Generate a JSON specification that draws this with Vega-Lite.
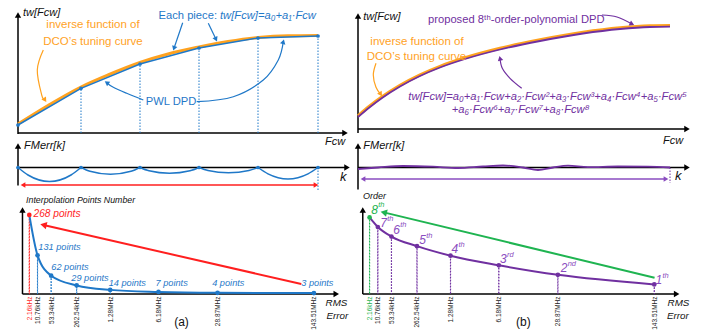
{
"$schema":"https://vega.github.io/schema/vega-lite/v6.json",
"padding":0,
"background":"white",
"spacing":0,
"bounds":"flush",
"align":"each",
"columns":2,
"config":{"view":{"stroke":null},"font":"Liberation Sans, Arial, sans-serif","text":{"font":"Liberation Sans, Arial, sans-serif"}},
"datasets":{
"pwl":[{"x":0,"y":8},{"x":63,"y":44.7},{"x":122,"y":69},{"x":181,"y":85},{"x":240,"y":95},{"x":300,"y":97}],
"rms":[{"rms":"2.16kHz","x":7,"pts":268,"order":8},{"rms":"10.76kHz","x":15.5,"pts":131,"order":7},{"rms":"53.34kHz","x":29.5,"pts":62,"order":6},{"rms":"262.54kHz","x":55.8,"pts":29,"order":5},{"rms":"1.28MHz","x":90.3,"pts":14,"order":4},{"rms":"6.18MHz","x":140,"pts":7,"order":3},{"rms":"28.87MHz","x":200.8,"pts":4,"order":2},{"rms":"143.51MHz","x":300,"pts":3,"order":1}]
},
"concat":[
{"width":350,"height":140,
"encoding":{"x":{"field":"x","type":"quantitative","scale":{"domain":[-18,332],"nice":false,"zero":false},"axis":null},"y":{"field":"y","type":"quantitative","scale":{"domain":[-7,133],"nice":false,"zero":false},"axis":null}},
"layer":[
{"data":{"values":[{"x":0,"y":-1,"x2":0,"y2":118},{"x":0,"y":0,"x2":327,"y2":0}]},"mark":{"type":"rule","color":"#000","strokeWidth":1.5},"encoding":{"x2":{"field":"x2"},"y2":{"field":"y2"}}},
{"data":{"values":[{"x":0,"y":118,"a":0},{"x":327,"y":0,"a":90}]},"mark":{"type":"point","shape":"triangle-up","filled":true,"opacity":1,"color":"#000","size":40},"encoding":{"angle":{"field":"a","type":"quantitative","scale":null}}},
{"data":{"values":[{"x":0,"y":9},{"x":30,"y":27.5},{"x":63,"y":46},{"x":90,"y":58},{"x":122,"y":70.5},{"x":150,"y":79},{"x":181,"y":86},{"x":210,"y":91.5},{"x":240,"y":95.5},{"x":270,"y":97.3},{"x":300,"y":97.6}]},"mark":{"type":"line","color":"#ffa21f","strokeWidth":3,"interpolate":"monotone"}},
{"data":{"values":[{"x":63,"y":0,"y2":44.7},{"x":122,"y":0,"y2":69},{"x":181,"y":0,"y2":85},{"x":240,"y":0,"y2":95},{"x":300,"y":0,"y2":97}]},"mark":{"type":"rule","color":"#1f78c8","strokeWidth":1,"strokeDash":[1.5,1.5]},"encoding":{"y2":{"field":"y2"}}},
{"data":{"name":"pwl"},"mark":{"type":"line","color":"#1f78c8","strokeWidth":1.5}},
{"data":{"name":"pwl"},"mark":{"type":"point","filled":true,"opacity":1,"color":"#1f78c8","size":14}},
{"data":{"values":[{"o":0,"x":25.3,"y":83},{"o":1,"x":19.3,"y":63},{"o":2,"x":23.7,"y":38},{"o":3,"x":27,"y":33}]},"mark":{"type":"line","color":"#ffa21f","strokeWidth":1.2,"interpolate":"cardinal"},"encoding":{"order":{"field":"o"}}},
{"data":{"values":[{"x":27,"y":33,"a":146.6}]},"mark":{"type":"point","shape":"triangle-up","filled":true,"opacity":1,"color":"#ffa21f","size":30},"encoding":{"angle":{"field":"a","type":"quantitative","scale":null}}},
{"data":{"values":[{"id":"e1","o":0,"x":164.7,"y":110.3},{"id":"e1","o":1,"x":156,"y":84.7},{"id":"e2","o":0,"x":190.3,"y":109.7},{"id":"e2","o":1,"x":198,"y":93.7},{"id":"p1","o":0,"x":125.3,"y":33},{"id":"p1","o":1,"x":108.7,"y":39.7},{"id":"p1","o":2,"x":95.3,"y":45.7},{"id":"p1","o":3,"x":88.7,"y":50.3},{"id":"p2","o":0,"x":178.7,"y":31.3},{"id":"p2","o":1,"x":215.3,"y":36.3},{"id":"p2","o":2,"x":245.3,"y":53},{"id":"p2","o":3,"x":260.3,"y":73},{"id":"p2","o":4,"x":265.3,"y":91.3}]},"mark":{"type":"line","color":"#1f78c8","strokeWidth":1.2,"interpolate":"cardinal"},"encoding":{"detail":{"field":"id"},"order":{"field":"o"}}},
{"data":{"values":[{"x":156,"y":84.7,"a":198.8},{"x":198,"y":93.7,"a":154.3},{"x":88.7,"y":50.3,"a":304.9},{"x":265.3,"y":91.3,"a":15.3}]},"mark":{"type":"point","shape":"triangle-up","filled":true,"opacity":1,"color":"#1f78c8","size":30},"encoding":{"angle":{"field":"a","type":"quantitative","scale":null}}},
{"data":{"values":[{"x":5,"y":120,"t":"tw[Fcw]"},{"x":307,"y":-8.7,"t":"Fcw"}]},"mark":{"type":"text","align":"left","baseline":"middle","fontStyle":"italic","fontSize":11,"color":"#111"},"encoding":{"text":{"field":"t"}}},
{"data":{"values":[{"x":75,"y":108,"t":"inverse function of"},{"x":75,"y":91,"t":"DCO’s tuning curve"}]},"mark":{"type":"text","align":"center","baseline":"middle","fontSize":11.5,"color":"#ffa21f"},"encoding":{"text":{"field":"t"}}},
{"data":{"values":[{"x":199,"y":117,"t":"Each piece:"}]},"mark":{"type":"text","align":"right","baseline":"middle","fontSize":11.2,"color":"#1f78c8"},"encoding":{"text":{"field":"t"}}},
{"data":{"values":[{"x":202,"y":117,"t":"tw[Fcw]=a₀+a₁·Fcw"}]},"mark":{"type":"text","align":"left","baseline":"middle","fontSize":11.2,"fontStyle":"italic","color":"#1f78c8"},"encoding":{"text":{"field":"t"}}},
{"data":{"values":[{"x":153,"y":31,"t":"PWL DPD"}]},"mark":{"type":"text","align":"center","baseline":"middle","fontSize":11.2,"color":"#1f78c8"},"encoding":{"text":{"field":"t"}}}
]},
{"width":353,"height":140,
"encoding":{"x":{"field":"x","type":"quantitative","scale":{"domain":[-8,345],"nice":false,"zero":false},"axis":null},"y":{"field":"y","type":"quantitative","scale":{"domain":[-11,129],"nice":false,"zero":false},"axis":null}},
"layer":[
{"data":{"values":[{"x":0,"y":-4,"x2":0,"y2":113},{"x":0,"y":0,"x2":329,"y2":0}]},"mark":{"type":"rule","color":"#000","strokeWidth":1.5},"encoding":{"x2":{"field":"x2"},"y2":{"field":"y2"}}},
{"data":{"values":[{"x":0,"y":113,"a":0},{"x":329,"y":0,"a":90}]},"mark":{"type":"point","shape":"triangle-up","filled":true,"opacity":1,"color":"#000","size":40},"encoding":{"angle":{"field":"a","type":"quantitative","scale":null}}},
{"data":{"values":[{"x":0,"y":13.2},{"x":12,"y":23.2},{"x":24,"y":32.2},{"x":42,"y":43.7},{"x":62,"y":54.2},{"x":82,"y":62.7},{"x":107,"y":71.2},{"x":142,"y":80.7},{"x":182,"y":89.2},{"x":225,"y":96.7},{"x":262,"y":101.2},{"x":292,"y":103.2},{"x":312,"y":103.5}]},"mark":{"type":"line","color":"#ffa21f","strokeWidth":3,"interpolate":"monotone"}},
{"data":{"values":[{"x":0,"y":12},{"x":12,"y":22},{"x":24,"y":31},{"x":42,"y":42.5},{"x":62,"y":53},{"x":82,"y":61.5},{"x":107,"y":70},{"x":142,"y":79.5},{"x":182,"y":88},{"x":225,"y":95.5},{"x":262,"y":100},{"x":292,"y":102},{"x":312,"y":102.3}]},"mark":{"type":"line","color":"#7030a0","strokeWidth":1.8,"interpolate":"monotone"}},
{"data":{"values":[{"o":0,"x":18,"y":65.7},{"o":1,"x":15.3,"y":54},{"o":2,"x":18,"y":41.7},{"o":3,"x":22.7,"y":34.7}]},"mark":{"type":"line","color":"#ffa21f","strokeWidth":1.2,"interpolate":"cardinal"},"encoding":{"order":{"field":"o"}}},
{"data":{"values":[{"x":22.7,"y":34.7,"a":146}]},"mark":{"type":"point","shape":"triangle-up","filled":true,"opacity":1,"color":"#ffa21f","size":30},"encoding":{"angle":{"field":"a","type":"quantitative","scale":null}}},
{"data":{"values":[{"id":"p","o":0,"x":244,"y":114},{"id":"p","o":1,"x":259,"y":112},{"id":"p","o":2,"x":274,"y":105},{"id":"f","o":0,"x":163.7,"y":40.7},{"id":"f","o":1,"x":152,"y":50.7},{"id":"f","o":2,"x":144.3,"y":60.7},{"id":"f","o":3,"x":142,"y":70.7}]},"mark":{"type":"line","color":"#7030a0","strokeWidth":1.2,"interpolate":"cardinal"},"encoding":{"detail":{"field":"id"},"order":{"field":"o"}}},
{"data":{"values":[{"x":274,"y":105,"a":115},{"x":142,"y":70.7,"a":347}]},"mark":{"type":"point","shape":"triangle-up","filled":true,"opacity":1,"color":"#7030a0","size":30},"encoding":{"angle":{"field":"a","type":"quantitative","scale":null}}},
{"data":{"values":[{"x":5.3,"y":112.3,"t":"tw[Fcw]"},{"x":305,"y":-11.7,"t":"Fcw"}]},"mark":{"type":"text","align":"left","baseline":"middle","fontStyle":"italic","fontSize":11,"color":"#111"},"encoding":{"text":{"field":"t"}}},
{"data":{"values":[{"x":70,"y":109,"t":"proposed 8ᵗʰ-order-polynomial DPD"}]},"mark":{"type":"text","align":"left","baseline":"middle","fontSize":11.2,"color":"#7030a0"},"encoding":{"text":{"field":"t"}}},
{"data":{"values":[{"x":59,"y":87.3,"t":"inverse function of"},{"x":58.5,"y":72.3,"t":"DCO’s tuning curve"}]},"mark":{"type":"text","align":"center","baseline":"middle","fontSize":11.5,"color":"#ffa21f"},"encoding":{"text":{"field":"t"}}},
{"data":{"values":[{"x":50.3,"y":31.7,"t":"tw[Fcw]=a₀+a₁·Fcw+a₂·Fcw²+a₃·Fcw³+a₄·Fcw⁴+a₅·Fcw⁵"},{"x":93.7,"y":19,"t":"+a₆·Fcw⁶+a₇·Fcw⁷+a₈·Fcw⁸"}]},"mark":{"type":"text","align":"left","baseline":"middle","fontSize":11.2,"fontStyle":"italic","color":"#7030a0"},"encoding":{"text":{"field":"t"}}}
]},
{"width":350,"height":55,
"encoding":{"x":{"field":"x","type":"quantitative","scale":{"domain":[-18,332],"nice":false,"zero":false},"axis":null},"y":{"field":"y","type":"quantitative","scale":{"domain":[-27.5,27.5],"nice":false,"zero":false},"axis":null}},
"layer":[
{"data":{"values":[{"x":0,"y":-18,"x2":0,"y2":21.5},{"x":0,"y":0,"x2":329,"y2":0}]},"mark":{"type":"rule","color":"#000","strokeWidth":1.5},"encoding":{"x2":{"field":"x2"},"y2":{"field":"y2"}}},
{"data":{"values":[{"x":0,"y":21.5,"a":0},{"x":329,"y":0,"a":90}]},"mark":{"type":"point","shape":"triangle-up","filled":true,"opacity":1,"color":"#000","size":40},"encoding":{"angle":{"field":"a","type":"quantitative","scale":null}}},
{"data":{"values":[{"id":1,"x":0,"y":0},{"id":1,"x":10,"y":-7.5},{"id":1,"x":31.5,"y":-14},{"id":1,"x":53,"y":-7.5},{"id":1,"x":63,"y":0},{"id":2,"x":63,"y":0},{"id":2,"x":72,"y":-3.8},{"id":2,"x":92.5,"y":-6.8},{"id":2,"x":113,"y":-3.8},{"id":2,"x":122,"y":0},{"id":3,"x":122,"y":0},{"id":3,"x":131,"y":-3.3},{"id":3,"x":151.5,"y":-5.8},{"id":3,"x":172,"y":-3.3},{"id":3,"x":181,"y":0},{"id":4,"x":181,"y":0},{"id":4,"x":190,"y":-3},{"id":4,"x":210.5,"y":-5.2},{"id":4,"x":231,"y":-3},{"id":4,"x":240,"y":0},{"id":5,"x":240,"y":0},{"id":5,"x":250,"y":-6.3},{"id":5,"x":270,"y":-11.5},{"id":5,"x":290,"y":-6.3},{"id":5,"x":300,"y":0}]},"mark":{"type":"line","color":"#1f78c8","strokeWidth":1.5,"interpolate":"monotone"},"encoding":{"detail":{"field":"id"}}},
{"data":{"values":[{"x":0,"y":0},{"x":63,"y":0},{"x":122,"y":0},{"x":181,"y":0},{"x":240,"y":0},{"x":300,"y":0}]},"mark":{"type":"point","filled":true,"opacity":1,"color":"#1f78c8","size":14}},
{"data":{"values":[{"x":300,"y":0,"y2":-22.5}]},"mark":{"type":"rule","color":"#1f78c8","strokeWidth":1,"strokeDash":[1.5,1.5]},"encoding":{"y2":{"field":"y2"}}},
{"data":{"values":[{"x":5,"y":-17.5,"x2":298,"y2":-17.5}]},"mark":{"type":"rule","color":"#ff1f1f","strokeWidth":1.3},"encoding":{"x2":{"field":"x2"},"y2":{"field":"y2"}}},
{"data":{"values":[{"x":5,"y":-17.5,"a":270},{"x":298,"y":-17.5,"a":90}]},"mark":{"type":"point","shape":"triangle-up","filled":true,"opacity":1,"color":"#ff1f1f","size":30},"encoding":{"angle":{"field":"a","type":"quantitative","scale":null}}},
{"data":{"values":[{"x":6,"y":21.5,"t":"FMerr[k]"}]},"mark":{"type":"text","align":"left","baseline":"middle","fontStyle":"italic","fontSize":11,"color":"#111"},"encoding":{"text":{"field":"t"}}},
{"data":{"values":[{"x":322,"y":-9.5,"t":"k"}]},"mark":{"type":"text","align":"left","baseline":"middle","fontStyle":"italic","fontSize":13,"color":"#111"},"encoding":{"text":{"field":"t"}}}
]},
{"width":353,"height":55,
"encoding":{"x":{"field":"x","type":"quantitative","scale":{"domain":[-8,345],"nice":false,"zero":false},"axis":null},"y":{"field":"y","type":"quantitative","scale":{"domain":[-27.5,27.5],"nice":false,"zero":false},"axis":null}},
"layer":[
{"data":{"values":[{"x":0,"y":-22,"x2":0,"y2":21.5},{"x":0,"y":0,"x2":329,"y2":0}]},"mark":{"type":"rule","color":"#000","strokeWidth":1.5},"encoding":{"x2":{"field":"x2"},"y2":{"field":"y2"}}},
{"data":{"values":[{"x":0,"y":21.5,"a":0},{"x":329,"y":0,"a":90}]},"mark":{"type":"point","shape":"triangle-up","filled":true,"opacity":1,"color":"#000","size":40},"encoding":{"angle":{"field":"a","type":"quantitative","scale":null}}},
{"data":{"values":[{"x":0,"y":-1.5},{"x":20,"y":0},{"x":45,"y":1.5},{"x":75,"y":0.8},{"x":100,"y":-0.5},{"x":125,"y":1},{"x":145,"y":2},{"x":165,"y":0},{"x":180,"y":-2.5},{"x":195,"y":0},{"x":210,"y":1.8},{"x":230,"y":0.3},{"x":260,"y":1},{"x":290,"y":0.8},{"x":312,"y":0}]},"mark":{"type":"line","color":"#7030a0","strokeWidth":1.8,"interpolate":"monotone"}},
{"data":{"values":[{"x":312,"y":0,"y2":-15.5}]},"mark":{"type":"rule","color":"#7030a0","strokeWidth":1,"strokeDash":[1.5,1.5]},"encoding":{"y2":{"field":"y2"}}},
{"data":{"values":[{"x":5,"y":-11.5,"x2":308,"y2":-11.5}]},"mark":{"type":"rule","color":"#8a4cc0","strokeWidth":1.3},"encoding":{"x2":{"field":"x2"},"y2":{"field":"y2"}}},
{"data":{"values":[{"x":5,"y":-11.5,"a":270},{"x":308,"y":-11.5,"a":90}]},"mark":{"type":"point","shape":"triangle-up","filled":true,"opacity":1,"color":"#8a4cc0","size":30},"encoding":{"angle":{"field":"a","type":"quantitative","scale":null}}},
{"data":{"values":[{"x":5.3,"y":21.8,"t":"FMerr[k]"}]},"mark":{"type":"text","align":"left","baseline":"middle","fontStyle":"italic","fontSize":11,"color":"#111"},"encoding":{"text":{"field":"t"}}},
{"data":{"values":[{"x":317,"y":-8.2,"t":"k"}]},"mark":{"type":"text","align":"left","baseline":"middle","fontStyle":"italic","fontSize":13,"color":"#111"},"encoding":{"text":{"field":"t"}}}
]},
{"width":350,"height":135,
"encoding":{"x":{"field":"x","type":"quantitative","scale":{"domain":[-18,332],"nice":false,"zero":false},"axis":{"values":[7,15.5,29.5,55.8,90.3,140,200.8,300],"labelExpr":"datum.value == 7 ? '2.16kHz' : datum.value == 15.5 ? '10.76kHz' : datum.value == 29.5 ? '53.34kHz' : datum.value == 55.8 ? '262.54kHz' : datum.value == 90.3 ? '1.28MHz' : datum.value == 140 ? '6.18MHz' : datum.value == 200.8 ? '28.87MHz' : '143.51MHz'","labelAngle":270,"labelAlign":"right","labelBaseline":"middle","labelFontSize":6.5,"labelPadding":2,"labelOverlap":false,"labelFlush":false,"labelBound":false,"labelColor":{"condition":{"test":"datum.value == 7","value":"#ff1f1f"},"value":"#222"},"domain":false,"ticks":false,"tickSize":0,"grid":false,"title":null,"offset":-36}},"y":{"field":"y","type":"quantitative","scale":{"domain":[-122,335.6],"nice":false,"zero":false},"axis":null}},
"layer":[
{"data":{"values":[{"x":0,"y":0,"x2":0,"y2":284.7},{"x":0,"y":0,"x2":323,"y2":0}]},"mark":{"type":"rule","color":"#000","strokeWidth":1.5},"encoding":{"x2":{"field":"x2"},"y2":{"field":"y2"}}},
{"data":{"values":[{"x":0,"y":284.7,"a":0},{"x":323,"y":0,"a":90}]},"mark":{"type":"point","shape":"triangle-up","filled":true,"opacity":1,"color":"#000","size":40},"encoding":{"angle":{"field":"a","type":"quantitative","scale":null}}},
{"data":{"values":[{"x":287,"y":33.9,"x2":21.6,"y2":233.9}]},"mark":{"type":"rule","color":"#ff1f1f","strokeWidth":2},"encoding":{"x2":{"field":"x2"},"y2":{"field":"y2"}}},
{"data":{"values":[{"x":21.6,"y":233.9,"a":282.7}]},"mark":{"type":"point","shape":"triangle-up","filled":true,"opacity":1,"color":"#ff1f1f","size":55},"encoding":{"angle":{"field":"a","type":"quantitative","scale":null}}},
{"data":{"name":"rms"},"mark":{"type":"bar","width":0.2,"fillOpacity":0,"strokeWidth":1,"strokeDash":[1.5,1.5]},"encoding":{"y":{"field":"pts","type":"quantitative","scale":{"domain":[-122,335.6],"nice":false,"zero":false},"axis":null},"stroke":{"condition":{"test":"datum.pts == 268","value":"#ff1f1f"},"value":"#1f78c8"}}},
{"data":{"name":"rms"},"mark":{"type":"line","color":"#1f78c8","strokeWidth":2,"interpolate":"monotone"},"encoding":{"y":{"field":"pts","type":"quantitative","scale":{"domain":[-122,335.6],"nice":false,"zero":false},"axis":null}}},
{"data":{"name":"rms"},"mark":{"type":"point","filled":true,"opacity":1,"size":22},"encoding":{"y":{"field":"pts","type":"quantitative","scale":{"domain":[-122,335.6],"nice":false,"zero":false},"axis":null},"color":{"condition":{"test":"datum.pts == 268","value":"#ff1f1f"},"value":"#1f78c8"}}},
{"data":{"values":[{"x":11.3,"y":271.2,"t":"268 points"}]},"mark":{"type":"text","align":"left","baseline":"middle","fontStyle":"italic","fontSize":10.2,"color":"#ff1f1f"},"encoding":{"text":{"field":"t"}}},
{"data":{"values":[{"x":16.3,"y":159.3,"t":"131 points"},{"x":29.7,"y":92.5,"t":"62 points"},{"x":50.3,"y":53.2,"t":"29 points"},{"x":88.7,"y":36.3,"t":"14 points"},{"x":137,"y":36.3,"t":"7 points"},{"x":195.3,"y":36.3,"t":"4 points"},{"x":287,"y":36.3,"t":"3 points"}]},"mark":{"type":"text","align":"left","baseline":"middle","fontStyle":"italic","fontSize":9.2,"color":"#1f78c8"},"encoding":{"text":{"field":"t"}}},
{"data":{"values":[{"x":3.7,"y":318.6,"t":"Interpolation Points Number"}]},"mark":{"type":"text","align":"left","baseline":"middle","fontStyle":"italic","fontSize":8.8,"color":"#111"},"encoding":{"text":{"field":"t"}}},
{"data":{"values":[{"x":312,"y":-31.6,"t":"RMS"},{"x":313,"y":-73.4,"t":"Error"}]},"mark":{"type":"text","align":"left","baseline":"middle","fontStyle":"italic","fontSize":9.8,"color":"#111"},"encoding":{"text":{"field":"t"}}},
{"data":{"values":[{"x":163.7,"y":-93.9,"t":"(a)"}]},"mark":{"type":"text","align":"center","baseline":"middle","fontSize":12,"color":"#111"},"encoding":{"text":{"field":"t"}}}
]},
{"width":353,"height":135,
"encoding":{"x":{"field":"x","type":"quantitative","scale":{"domain":[-8,345],"nice":false,"zero":false},"axis":{"values":[7,15.5,29.5,55.8,90.3,140,200.8,300],"labelExpr":"datum.value == 7 ? '2.16kHz' : datum.value == 15.5 ? '10.76kHz' : datum.value == 29.5 ? '53.34kHz' : datum.value == 55.8 ? '262.54kHz' : datum.value == 90.3 ? '1.28MHz' : datum.value == 140 ? '6.18MHz' : datum.value == 200.8 ? '28.87MHz' : '143.51MHz'","labelAngle":270,"labelAlign":"right","labelBaseline":"middle","labelFontSize":6.5,"labelPadding":2,"labelOverlap":false,"labelFlush":false,"labelBound":false,"labelColor":{"condition":{"test":"datum.value == 7","value":"#1fb451"},"value":"#222"},"domain":false,"ticks":false,"tickSize":0,"grid":false,"title":null,"offset":-36}},"y":{"field":"y","type":"quantitative","scale":{"domain":[-3.762,10.345],"nice":false,"zero":false},"axis":null}},
"layer":[
{"data":{"values":[{"x":0,"y":0,"x2":0,"y2":8.78},{"x":0,"y":0,"x2":323,"y2":0}]},"mark":{"type":"rule","color":"#000","strokeWidth":1.5},"encoding":{"x2":{"field":"x2"},"y2":{"field":"y2"}}},
{"data":{"values":[{"x":0,"y":8.78,"a":0},{"x":323,"y":0,"a":90}]},"mark":{"type":"point","shape":"triangle-up","filled":true,"opacity":1,"color":"#000","size":40},"encoding":{"angle":{"field":"a","type":"quantitative","scale":null}}},
{"data":{"values":[{"x":300.3,"y":1.7,"x2":21.6,"y2":8.53}]},"mark":{"type":"rule","color":"#1fb451","strokeWidth":2},"encoding":{"x2":{"field":"x2"},"y2":{"field":"y2"}}},
{"data":{"values":[{"x":21.6,"y":8.53,"a":283.2}]},"mark":{"type":"point","shape":"triangle-up","filled":true,"opacity":1,"color":"#1fb451","size":55},"encoding":{"angle":{"field":"a","type":"quantitative","scale":null}}},
{"data":{"name":"rms"},"mark":{"type":"bar","width":0.2,"fillOpacity":0,"strokeWidth":1,"strokeDash":[1.5,1.5]},"encoding":{"y":{"field":"order","type":"quantitative","scale":{"domain":[-3.762,10.345],"nice":false,"zero":false},"axis":null},"stroke":{"condition":{"test":"datum.order == 8","value":"#1fb451"},"value":"#7030a0"}}},
{"data":{"name":"rms"},"mark":{"type":"line","color":"#7030a0","strokeWidth":2,"interpolate":"monotone"},"encoding":{"y":{"field":"order","type":"quantitative","scale":{"domain":[-3.762,10.345],"nice":false,"zero":false},"axis":null}}},
{"data":{"name":"rms"},"mark":{"type":"point","filled":true,"opacity":1,"size":22},"encoding":{"y":{"field":"order","type":"quantitative","scale":{"domain":[-3.762,10.345],"nice":false,"zero":false},"axis":null},"color":{"condition":{"test":"datum.order == 8","value":"#1fb451"},"value":"#7030a0"}}},
{"data":{"values":[{"x":8.7,"y":8.78,"n":"8","s":"th"},{"x":18,"y":7.39,"n":"7","s":"th"},{"x":31.3,"y":6.69,"n":"6","s":"th"},{"x":58,"y":5.64,"n":"5","s":"th"},{"x":91.3,"y":4.67,"n":"4","s":"th"},{"x":141.3,"y":3.62,"n":"3","s":"rd"},{"x":203.7,"y":2.68,"n":"2","s":"nd"},{"x":301.3,"y":1.46,"n":"1","s":"th"}]},"mark":{"type":"text","align":"left","baseline":"middle","fontSize":12,"fontStyle":"italic"},"encoding":{"text":{"field":"n"},"color":{"condition":{"test":"datum.n == '8'","value":"#1fb451"},"value":"#8a4cc0"}}},
{"data":{"values":[{"x":8.7,"y":8.78,"n":"8","s":"th"},{"x":18,"y":7.39,"n":"7","s":"th"},{"x":31.3,"y":6.69,"n":"6","s":"th"},{"x":58,"y":5.64,"n":"5","s":"th"},{"x":91.3,"y":4.67,"n":"4","s":"th"},{"x":141.3,"y":3.62,"n":"3","s":"rd"},{"x":203.7,"y":2.68,"n":"2","s":"nd"},{"x":301.3,"y":1.46,"n":"1","s":"th"}]},"mark":{"type":"text","align":"left","baseline":"middle","fontSize":7.5,"fontStyle":"italic","dx":7,"dy":-4.5},"encoding":{"text":{"field":"s"},"color":{"condition":{"test":"datum.n == '8'","value":"#1fb451"},"value":"#8a4cc0"}}},
{"data":{"values":[{"x":0.3,"y":10.25,"t":"Order"}]},"mark":{"type":"text","align":"left","baseline":"middle","fontStyle":"italic","fontSize":9,"color":"#111"},"encoding":{"text":{"field":"t"}}},
{"data":{"values":[{"x":313.7,"y":-0.97,"t":"RMS"},{"x":313,"y":-2.27,"t":"Error"}]},"mark":{"type":"text","align":"left","baseline":"middle","fontStyle":"italic","fontSize":9.8,"color":"#111"},"encoding":{"text":{"field":"t"}}},
{"data":{"values":[{"x":165.3,"y":-2.96,"t":"(b)"}]},"mark":{"type":"text","align":"center","baseline":"middle","fontSize":12,"color":"#111"},"encoding":{"text":{"field":"t"}}}
]}
]
}
